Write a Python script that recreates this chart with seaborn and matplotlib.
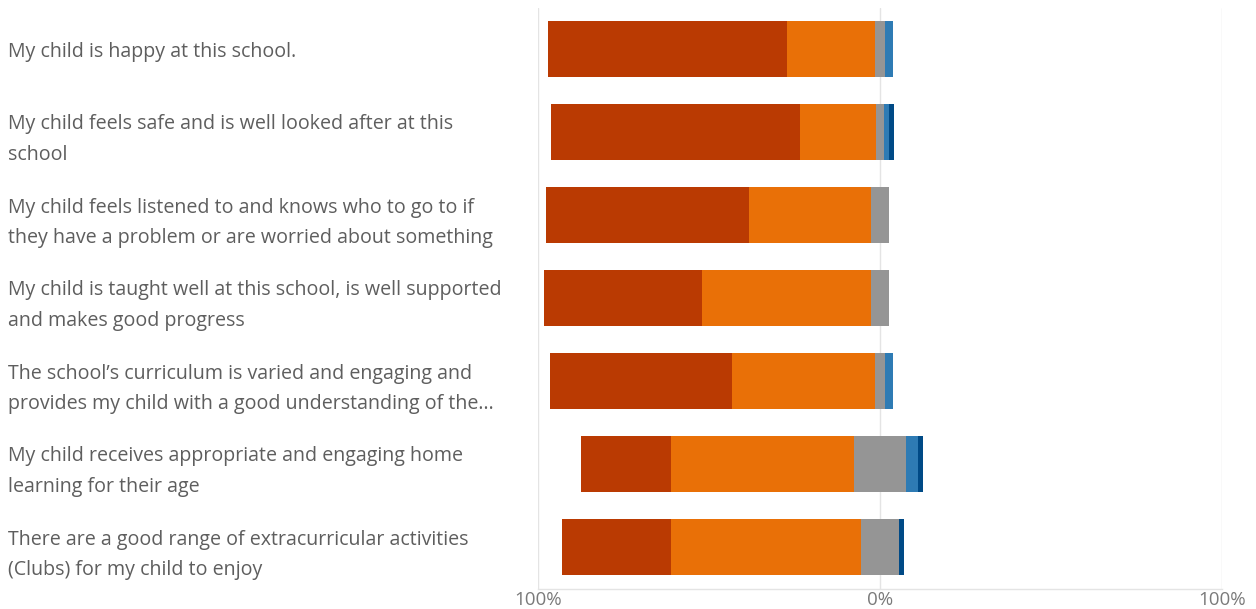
import matplotlib
matplotlib.use("Agg")
import matplotlib.pyplot as plt
import seaborn as sns
import numpy as np
import pandas as pd

categories = [
    "My child is happy at this school.",
    "My child feels safe and is well looked after at this\nschool",
    "My child feels listened to and knows who to go to if\nthey have a problem or are worried about something",
    "My child is taught well at this school, is well supported\nand makes good progress",
    "The school\u2019s curriculum is varied and engaging and\nprovides my child with a good understanding of the...",
    "My child receives appropriate and engaging home\nlearning for their age",
    "There are a good range of extracurricular activities\n(Clubs) for my child to enjoy",
]
strongly_agree = [69.8, 72.9, 59.2, 46.1, 53.1, 26.3, 31.9]
agree = [25.7, 22.2, 35.9, 49.5, 41.8, 53.6, 55.6]
neutral = [3.0, 2.1, 5.1, 5.1, 3.0, 15.2, 11.1]
disagree = [2.2, 1.5, 0.0, 0.0, 2.2, 3.5, 0.0]
strongly_disagree = [0.0, 1.5, 0.0, 0.0, 0.0, 1.5, 1.5]
x_ticks = [-100, 0, 100]
x_tick_labels = ["100%", "0%", "100%"]

c_sa = "#BA3A02"
c_a = "#E97007"
c_n = "#959595"
c_d = "#2E7BB4"
c_sd = "#004A86"

sns.set_theme(style="white")
plt.rcParams['font.family'] = ['Open Sans', 'DejaVu Sans']

df = pd.DataFrame({
    "q": categories,
    "sa": strongly_agree, "a": agree, "n": neutral,
    "d": disagree, "sd": strongly_disagree,
})
half = df["n"] / 2.0
df["left_sa"] = -(half + df["a"] + df["sa"])
df["left_a"] = -(half + df["a"])
df["left_n"] = -half
df["right_sd"] = half + df["d"] + df["sd"]
df["right_d"] = half + df["d"]
df["right_n"] = half

fig = plt.figure(figsize=(12.56, 6.09), dpi=100)
ax = fig.add_axes([538/1256, 1-588.5/609, (1222-538)/1256, (588.5-7.5)/609])

for ax_i in x_ticks:
    ax.axvline(ax_i, color="#e4e4e4", lw=1, zorder=0)

layers = [("left_sa", c_sa), ("left_a", c_a), ("left_n", c_n),
          ("right_sd", c_sd), ("right_d", c_d), ("right_n", c_n)]
for col, colr in layers:
    sns.barplot(data=df, x=col, y="q", orient="h", color=colr,
                width=0.665, linewidth=0, saturation=1, ax=ax, zorder=2)

ax.set_xlim(-100, 100)
ax.set_ylim(6.5, -0.5)
ax.set_xlabel("")
ax.set_ylabel("")
ax.set_xticks(x_ticks)
ax.set_xticklabels(x_tick_labels, fontsize=13.5, color="#7a7a7a")
ax.tick_params(axis="x", length=0, pad=2)

ax.set_yticks(range(len(categories)))
ax.set_yticklabels(categories, fontsize=14.1, color="#5e5e5e")
pad_pt = (538 - 8) * 72 / 100
ax.tick_params(axis="y", length=0, pad=pad_pt)
for lab in ax.get_yticklabels():
    lab.set_horizontalalignment("left")
    lab.set_linespacing(1.68)

for s in ["top", "right", "left"]:
    ax.spines[s].set_visible(False)
ax.spines["bottom"].set_color("#e4e4e4")
ax.spines["bottom"].set_linewidth(1)

fig.savefig("out.png", dpi=100)
